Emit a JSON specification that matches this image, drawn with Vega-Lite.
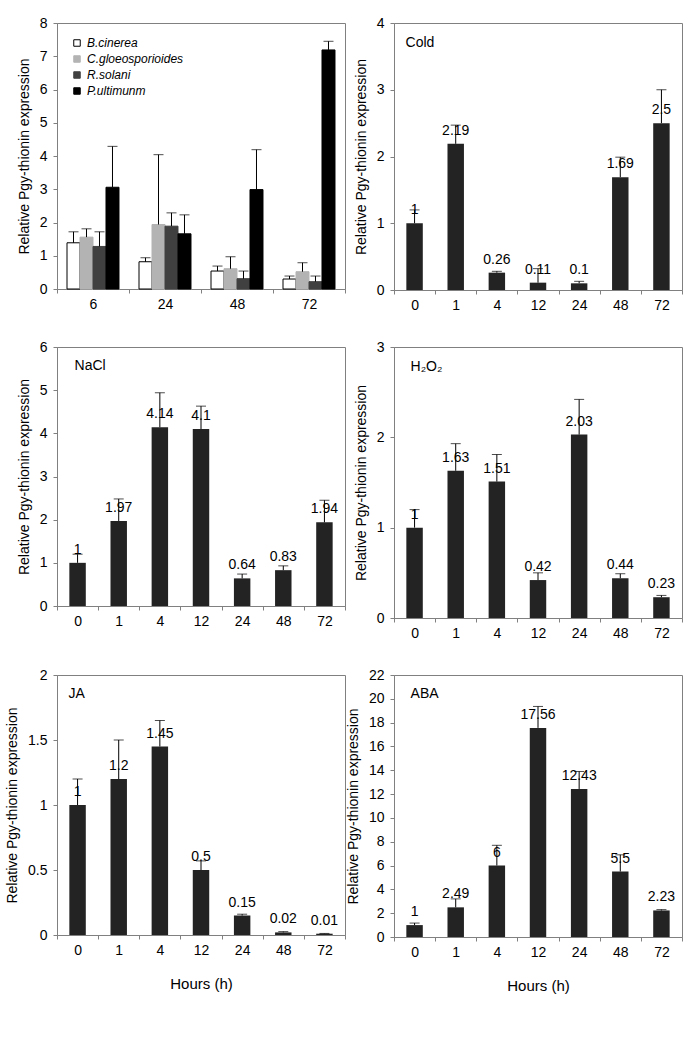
{
  "$schema": "https://vega.github.io/schema/vega-lite/v6.json",
  "padding": {"left": 5, "top": 15, "right": 5, "bottom": 5},
  "background": "white",
  "config": {
    "font": "Liberation Sans",
    "view": {"stroke": "#808080", "strokeWidth": 1},
    "axis": {
      "domainColor": "#808080", "tickColor": "#808080", "tickSize": 4,
      "labelFontSize": 14, "titleFontSize": 14, "titleFontWeight": "normal",
      "labelColor": "#000", "titleColor": "#000", "grid": false,
      "labelFont": "Liberation Sans", "titleFont": "Liberation Sans", "labelOverlap": false
    },
    "axisX": {"labelAngle": 0, "tickBand": "extent", "labelPadding": 4, "titleFontSize": 15, "titlePadding": 19},
    "axisY": {"labelPadding": 6, "titlePadding": 8, "format": "~g"},
    "text": {"font": "Liberation Sans", "fontSize": 14, "color": "#000"}
  },
  "datasets": {
    "pathogen": [
      {"t": "6", "p": "B.cinerea", "v": 1.39, "u": 1.72},
      {"t": "6", "p": "C.gloeosporioides", "v": 1.56, "u": 1.81},
      {"t": "6", "p": "R.solani", "v": 1.28, "u": 1.72},
      {"t": "6", "p": "P.ultimunm", "v": 3.06, "u": 4.29},
      {"t": "24", "p": "B.cinerea", "v": 0.82, "u": 0.94},
      {"t": "24", "p": "C.gloeosporioides", "v": 1.94, "u": 4.04},
      {"t": "24", "p": "R.solani", "v": 1.89, "u": 2.29},
      {"t": "24", "p": "P.ultimunm", "v": 1.66, "u": 2.23},
      {"t": "48", "p": "B.cinerea", "v": 0.54, "u": 0.69},
      {"t": "48", "p": "C.gloeosporioides", "v": 0.61, "u": 0.97},
      {"t": "48", "p": "R.solani", "v": 0.31, "u": 0.54},
      {"t": "48", "p": "P.ultimunm", "v": 2.99, "u": 4.19},
      {"t": "72", "p": "B.cinerea", "v": 0.3, "u": 0.39},
      {"t": "72", "p": "C.gloeosporioides", "v": 0.52, "u": 0.79},
      {"t": "72", "p": "R.solani", "v": 0.22, "u": 0.39},
      {"t": "72", "p": "P.ultimunm", "v": 7.19, "u": 7.45}
    ],
    "cold": [
      {"t": "0", "v": 1, "u": 1.2}, {"t": "1", "v": 2.19, "u": 2.47}, {"t": "4", "v": 0.26, "u": 0.28},
      {"t": "12", "v": 0.11, "u": 0.32}, {"t": "24", "v": 0.1, "u": 0.13}, {"t": "48", "v": 1.69, "u": 1.99},
      {"t": "72", "v": 2.5, "u": 3.0}
    ],
    "nacl": [
      {"t": "0", "v": 1, "u": 1.2}, {"t": "1", "v": 1.97, "u": 2.48}, {"t": "4", "v": 4.14, "u": 4.94},
      {"t": "12", "v": 4.1, "u": 4.63}, {"t": "24", "v": 0.64, "u": 0.74}, {"t": "48", "v": 0.83, "u": 0.93},
      {"t": "72", "v": 1.94, "u": 2.45}
    ],
    "h2o2": [
      {"t": "0", "v": 1, "u": 1.2}, {"t": "1", "v": 1.63, "u": 1.93}, {"t": "4", "v": 1.51, "u": 1.81},
      {"t": "12", "v": 0.42, "u": 0.5}, {"t": "24", "v": 2.03, "u": 2.42}, {"t": "48", "v": 0.44, "u": 0.49},
      {"t": "72", "v": 0.23, "u": 0.25}
    ],
    "ja": [
      {"t": "0", "v": 1, "u": 1.2}, {"t": "1", "v": 1.2, "u": 1.5}, {"t": "4", "v": 1.45, "u": 1.65},
      {"t": "12", "v": 0.5, "u": 0.57}, {"t": "24", "v": 0.15, "u": 0.16}, {"t": "48", "v": 0.02, "u": 0.026},
      {"t": "72", "v": 0.01, "u": 0.012}
    ],
    "aba": [
      {"t": "0", "v": 1, "u": 1.17}, {"t": "1", "v": 2.49, "u": 3.2}, {"t": "4", "v": 6, "u": 7.7},
      {"t": "12", "v": 17.56, "u": 19.36}, {"t": "24", "v": 12.43, "u": 13.9}, {"t": "48", "v": 5.5, "u": 6.9},
      {"t": "72", "v": 2.23, "u": 2.3}
    ],
    "one": [{}]
  },
  "columns": 2,
  "spacing": {"row": 57, "column": 49},
  "bounds": "flush",
  "resolve": {"scale": {"color": "independent", "stroke": "independent", "xOffset": "independent"}},
  "concat": [
    {
      "width": 288, "height": 266,
      "data": {"name": "pathogen"},
      "layer": [
        {
          "mark": {"type": "bar", "strokeWidth": 1},
          "encoding": {
            "x": {"field": "t", "type": "nominal", "sort": null, "title": null, "scale": {"paddingInner": 0, "paddingOuter": 0}},
            "xOffset": {"field": "p", "type": "nominal", "sort": null, "scale": {"domain": ["B.cinerea", "C.gloeosporioides", "R.solani", "P.ultimunm"], "paddingInner": 0, "paddingOuter": 0.77}},
            "y": {"field": "v", "type": "quantitative", "title": "Relative Pgy-thionin expression", "scale": {"domain": [0, 8], "nice": false}, "axis": {"values": [0, 1, 2, 3, 4, 5, 6, 7, 8]}},
            "color": {"field": "p", "type": "nominal", "sort": null,
              "scale": {"domain": ["B.cinerea", "C.gloeosporioides", "R.solani", "P.ultimunm"], "range": ["#ffffff", "#b3b3b3", "#404040", "#000000"]},
              "legend": {"orient": "top-left", "title": null, "offset": 14, "padding": 0, "symbolType": "square", "symbolSize": 42, "symbolStrokeWidth": 1, "labelFontSize": 12, "labelFontStyle": "italic", "labelOffset": 4, "rowPadding": 4, "labelColor": "#000"}},
            "stroke": {"field": "p", "type": "nominal", "sort": null,
              "scale": {"domain": ["B.cinerea", "C.gloeosporioides", "R.solani", "P.ultimunm"], "range": ["#000000", "#b3b3b3", "#404040", "#000000"]},
              "legend": {"orient": "top-left", "title": null, "offset": 14, "padding": 0, "symbolType": "square", "symbolSize": 42, "symbolStrokeWidth": 1, "labelFontSize": 12, "labelFontStyle": "italic", "labelOffset": 4, "rowPadding": 4, "labelColor": "#000"}}
          }
        },
        {
          "mark": {"type": "rule", "color": "#000", "strokeWidth": 1},
          "encoding": {
            "x": {"field": "t", "type": "nominal", "sort": null, "title": null},
            "xOffset": {"field": "p", "type": "nominal", "sort": null},
            "y": {"field": "v", "type": "quantitative", "title": "Relative Pgy-thionin expression", "axis": {"values": [0, 1, 2, 3, 4, 5, 6, 7, 8]}},
            "y2": {"field": "u"}
          }
        },
        {
          "mark": {"type": "tick", "color": "#000", "thickness": 1, "size": 10, "orient": "horizontal"},
          "encoding": {
            "x": {"field": "t", "type": "nominal", "sort": null, "title": null},
            "xOffset": {"field": "p", "type": "nominal", "sort": null},
            "y": {"field": "u", "type": "quantitative", "title": "Relative Pgy-thionin expression", "axis": {"values": [0, 1, 2, 3, 4, 5, 6, 7, 8]}}
          }
        }
      ]
    },
    {
      "width": 288, "height": 267,
      "data": {"name": "cold"},
      "layer": [
        {
          "mark": {"type": "bar", "width": {"band": 0.4}, "color": "#232323"},
          "encoding": {
            "x": {"field": "t", "type": "nominal", "sort": null, "title": null, "scale": {"paddingInner": 0, "paddingOuter": 0}},
            "y": {"field": "v", "type": "quantitative", "title": "Relative Pgy-thionin expression", "scale": {"domain": [0, 4], "nice": false}, "axis": {"values": [0, 1, 2, 3, 4]}}
          }
        },
        {
          "mark": {"type": "rule", "color": "#000", "strokeWidth": 1},
          "encoding": {
            "x": {"field": "t", "type": "nominal", "sort": null, "title": null},
            "y": {"field": "v", "type": "quantitative", "title": "Relative Pgy-thionin expression", "axis": {"values": [0, 1, 2, 3, 4]}},
            "y2": {"field": "u"}
          }
        },
        {
          "mark": {"type": "tick", "color": "#000", "thickness": 1, "size": 10, "orient": "horizontal"},
          "encoding": {
            "x": {"field": "t", "type": "nominal", "sort": null, "title": null},
            "y": {"field": "u", "type": "quantitative", "title": "Relative Pgy-thionin expression", "axis": {"values": [0, 1, 2, 3, 4]}}
          }
        },
        {
          "mark": {"type": "text", "dy": -13, "baseline": "middle"},
          "encoding": {
            "x": {"field": "t", "type": "nominal", "sort": null, "title": null},
            "y": {"field": "v", "type": "quantitative", "title": "Relative Pgy-thionin expression", "axis": {"values": [0, 1, 2, 3, 4]}},
            "text": {"field": "v", "type": "quantitative"}
          }
        },
        {
          "data": {"name": "one"},
          "mark": {"type": "text", "text": "Cold", "align": "left", "baseline": "middle", "dx": -9, "dy": 20},
          "encoding": {
            "x": {"datum": "0", "type": "nominal"},
            "y": {"datum": 4, "type": "quantitative"}
          }
        }
      ]
    },
    {
      "width": 288, "height": 259,
      "data": {"name": "nacl"},
      "layer": [
        {
          "mark": {"type": "bar", "width": {"band": 0.4}, "color": "#232323"},
          "encoding": {
            "x": {"field": "t", "type": "nominal", "sort": null, "title": null, "scale": {"paddingInner": 0, "paddingOuter": 0}},
            "y": {"field": "v", "type": "quantitative", "title": "Relative Pgy-thionin expression", "scale": {"domain": [0, 6], "nice": false}, "axis": {"values": [0, 1, 2, 3, 4, 5, 6]}}
          }
        },
        {
          "mark": {"type": "rule", "color": "#000", "strokeWidth": 1},
          "encoding": {
            "x": {"field": "t", "type": "nominal", "sort": null, "title": null},
            "y": {"field": "v", "type": "quantitative", "title": "Relative Pgy-thionin expression", "axis": {"values": [0, 1, 2, 3, 4, 5, 6]}},
            "y2": {"field": "u"}
          }
        },
        {
          "mark": {"type": "tick", "color": "#000", "thickness": 1, "size": 10, "orient": "horizontal"},
          "encoding": {
            "x": {"field": "t", "type": "nominal", "sort": null, "title": null},
            "y": {"field": "u", "type": "quantitative", "title": "Relative Pgy-thionin expression", "axis": {"values": [0, 1, 2, 3, 4, 5, 6]}}
          }
        },
        {
          "mark": {"type": "text", "dy": -13, "baseline": "middle"},
          "encoding": {
            "x": {"field": "t", "type": "nominal", "sort": null, "title": null},
            "y": {"field": "v", "type": "quantitative", "title": "Relative Pgy-thionin expression", "axis": {"values": [0, 1, 2, 3, 4, 5, 6]}},
            "text": {"field": "v", "type": "quantitative"}
          }
        },
        {
          "data": {"name": "one"},
          "mark": {"type": "text", "text": "NaCl", "align": "left", "baseline": "middle", "dx": -3, "dy": 19},
          "encoding": {
            "x": {"datum": "0", "type": "nominal"},
            "y": {"datum": 6, "type": "quantitative"}
          }
        }
      ]
    },
    {
      "width": 288, "height": 271,
      "data": {"name": "h2o2"},
      "layer": [
        {
          "mark": {"type": "bar", "width": {"band": 0.4}, "color": "#232323"},
          "encoding": {
            "x": {"field": "t", "type": "nominal", "sort": null, "title": null, "scale": {"paddingInner": 0, "paddingOuter": 0}},
            "y": {"field": "v", "type": "quantitative", "title": "Relative Pgy-thionin expression", "scale": {"domain": [0, 3], "nice": false}, "axis": {"values": [0, 1, 2, 3]}}
          }
        },
        {
          "mark": {"type": "rule", "color": "#000", "strokeWidth": 1},
          "encoding": {
            "x": {"field": "t", "type": "nominal", "sort": null, "title": null},
            "y": {"field": "v", "type": "quantitative", "title": "Relative Pgy-thionin expression", "axis": {"values": [0, 1, 2, 3]}},
            "y2": {"field": "u"}
          }
        },
        {
          "mark": {"type": "tick", "color": "#000", "thickness": 1, "size": 10, "orient": "horizontal"},
          "encoding": {
            "x": {"field": "t", "type": "nominal", "sort": null, "title": null},
            "y": {"field": "u", "type": "quantitative", "title": "Relative Pgy-thionin expression", "axis": {"values": [0, 1, 2, 3]}}
          }
        },
        {
          "mark": {"type": "text", "dy": -13, "baseline": "middle"},
          "encoding": {
            "x": {"field": "t", "type": "nominal", "sort": null, "title": null},
            "y": {"field": "v", "type": "quantitative", "title": "Relative Pgy-thionin expression", "axis": {"values": [0, 1, 2, 3]}},
            "text": {"field": "v", "type": "quantitative"}
          }
        },
        {
          "data": {"name": "one"},
          "mark": {"type": "text", "text": "H₂O₂", "align": "left", "baseline": "middle", "dx": -4, "dy": 20},
          "encoding": {
            "x": {"datum": "0", "type": "nominal"},
            "y": {"datum": 3, "type": "quantitative"}
          }
        }
      ]
    },
    {
      "width": 288, "height": 260,
      "data": {"name": "ja"},
      "layer": [
        {
          "mark": {"type": "bar", "width": {"band": 0.4}, "color": "#232323"},
          "encoding": {
            "x": {"field": "t", "type": "nominal", "sort": null, "title": "Hours (h)", "scale": {"paddingInner": 0, "paddingOuter": 0}},
            "y": {"field": "v", "type": "quantitative", "title": "Relative Pgy-thionin expression", "scale": {"domain": [0, 2], "nice": false}, "axis": {"values": [0, 0.5, 1, 1.5, 2]}}
          }
        },
        {
          "mark": {"type": "rule", "color": "#000", "strokeWidth": 1},
          "encoding": {
            "x": {"field": "t", "type": "nominal", "sort": null, "title": "Hours (h)"},
            "y": {"field": "v", "type": "quantitative", "title": "Relative Pgy-thionin expression", "axis": {"values": [0, 0.5, 1, 1.5, 2]}},
            "y2": {"field": "u"}
          }
        },
        {
          "mark": {"type": "tick", "color": "#000", "thickness": 1, "size": 10, "orient": "horizontal"},
          "encoding": {
            "x": {"field": "t", "type": "nominal", "sort": null, "title": "Hours (h)"},
            "y": {"field": "u", "type": "quantitative", "title": "Relative Pgy-thionin expression", "axis": {"values": [0, 0.5, 1, 1.5, 2]}}
          }
        },
        {
          "mark": {"type": "text", "dy": -13, "baseline": "middle"},
          "encoding": {
            "x": {"field": "t", "type": "nominal", "sort": null, "title": "Hours (h)"},
            "y": {"field": "v", "type": "quantitative", "title": "Relative Pgy-thionin expression", "axis": {"values": [0, 0.5, 1, 1.5, 2]}},
            "text": {"field": "v", "type": "quantitative"}
          }
        },
        {
          "data": {"name": "one"},
          "mark": {"type": "text", "text": "JA", "align": "left", "baseline": "middle", "dx": -9, "dy": 19},
          "encoding": {
            "x": {"datum": "0", "type": "nominal"},
            "y": {"datum": 2, "type": "quantitative"}
          }
        }
      ]
    },
    {
      "width": 288, "height": 262,
      "data": {"name": "aba"},
      "layer": [
        {
          "mark": {"type": "bar", "width": {"band": 0.4}, "color": "#232323"},
          "encoding": {
            "x": {"field": "t", "type": "nominal", "sort": null, "title": "Hours (h)", "scale": {"paddingInner": 0, "paddingOuter": 0}},
            "y": {"field": "v", "type": "quantitative", "title": "Relative Pgy-thionin expression", "scale": {"domain": [0, 22], "nice": false}, "axis": {"values": [0, 2, 4, 6, 8, 10, 12, 14, 16, 18, 20, 22], "labelOverlap": false, "tickCount": 12}}
          }
        },
        {
          "mark": {"type": "rule", "color": "#000", "strokeWidth": 1},
          "encoding": {
            "x": {"field": "t", "type": "nominal", "sort": null, "title": "Hours (h)"},
            "y": {"field": "v", "type": "quantitative", "title": "Relative Pgy-thionin expression", "axis": {"values": [0, 2, 4, 6, 8, 10, 12, 14, 16, 18, 20, 22], "labelOverlap": false, "tickCount": 12}},
            "y2": {"field": "u"}
          }
        },
        {
          "mark": {"type": "tick", "color": "#000", "thickness": 1, "size": 10, "orient": "horizontal"},
          "encoding": {
            "x": {"field": "t", "type": "nominal", "sort": null, "title": "Hours (h)"},
            "y": {"field": "u", "type": "quantitative", "title": "Relative Pgy-thionin expression", "axis": {"values": [0, 2, 4, 6, 8, 10, 12, 14, 16, 18, 20, 22], "labelOverlap": false, "tickCount": 12}}
          }
        },
        {
          "mark": {"type": "text", "dy": -13, "baseline": "middle"},
          "encoding": {
            "x": {"field": "t", "type": "nominal", "sort": null, "title": "Hours (h)"},
            "y": {"field": "v", "type": "quantitative", "title": "Relative Pgy-thionin expression", "axis": {"values": [0, 2, 4, 6, 8, 10, 12, 14, 16, 18, 20, 22], "labelOverlap": false, "tickCount": 12}},
            "text": {"field": "v", "type": "quantitative"}
          }
        },
        {
          "data": {"name": "one"},
          "mark": {"type": "text", "text": "ABA", "align": "left", "baseline": "middle", "dx": -4, "dy": 19},
          "encoding": {
            "x": {"datum": "0", "type": "nominal"},
            "y": {"datum": 22, "type": "quantitative"}
          }
        }
      ]
    }
  ]
}
